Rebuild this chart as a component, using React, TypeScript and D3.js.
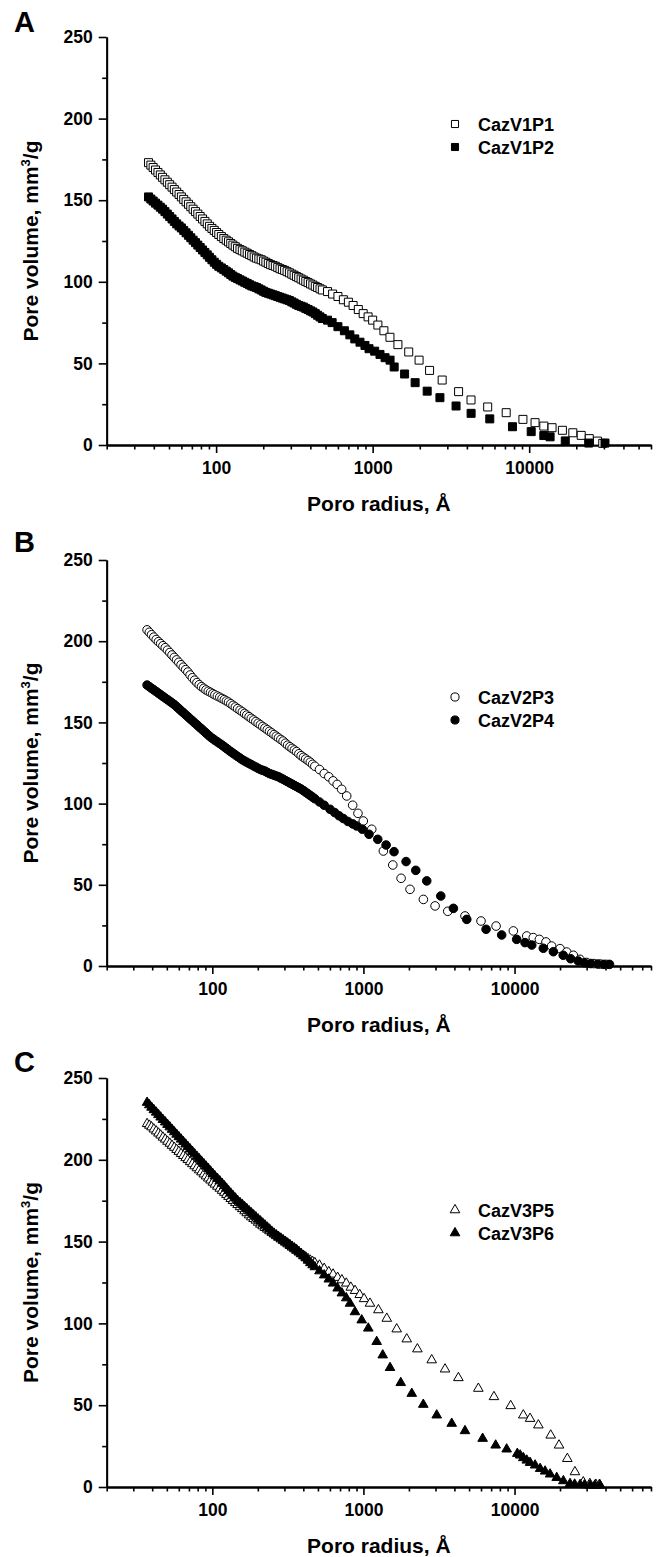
import React, { useEffect, useRef } from "react";
import * as d3 from "d3";

// radius grid (Å) of the dense, small-pore part of every curve
const denseRadius = [37, 38.3, 39.6, 41, 42.5, 44, 45.5, 47.1, 48.8, 50.5, 52.3, 54.1, 56, 58, 60, 62.1, 64.3, 66.6, 68.9, 71.3, 73.8, 76.4, 79.1, 81.9, 84.8, 87.8, 90.8, 94, 97.3, 100.7, 104, 108, 112, 116, 120, 124, 128, 132.5, 137, 142, 147, 152.5, 158, 163.5, 169, 175, 181, 187.5, 194, 201, 208, 215.5, 223, 231, 239, 247.5, 256, 265, 274, 284, 294, 304.5, 315, 326, 337, 349, 361, 374, 387, 401, 415, 430, 445, 461, 477];

// panel A
const v1p1Dense = [173, 171.5, 170, 168.5, 167, 165.5, 164, 162.5, 161, 159.5, 158, 156.5, 155, 153.5, 152, 150.5, 149, 147.5, 146, 144.5, 143, 141.5, 140, 138.5, 137, 135.5, 134, 132.7, 131.5, 130.2, 129, 127.7, 126.5, 125.5, 124.5, 123.5, 122.5, 121.5, 120.5, 119.7, 119, 118.2, 117.5, 116.7, 116, 115.2, 114.5, 114, 113.5, 112.7, 112, 111.2, 110.5, 110, 109.5, 108.7, 108, 107.5, 107, 106.2, 105.5, 104.7, 104, 103.2, 102.5, 101.7, 101, 100.2, 99.5, 98.7, 98, 97.2, 96.5, 95.7, 95];
const v1p1Tail = [[515, 94], [555, 92.5], [600, 91], [650, 89], [700, 87.5], [750, 85.5], [810, 83], [870, 80.5], [935, 78.5], [1000, 76.5], [1080, 73.5], [1180, 70], [1290, 66], [1450, 61.5], [1700, 57], [1980, 52], [2310, 45.7], [2780, 39.8], [3540, 32.7], [4250, 27.6], [5430, 23.3], [7130, 19.8], [9120, 15.7], [10900, 13.7], [12400, 11.6], [14000, 10.6], [16300, 9], [19000, 7.5], [21500, 5.9], [24200, 3.9], [27300, 2.4], [29500, 1]];
const v1p2Dense = [152, 150.7, 149.5, 148.2, 147, 145.7, 144.5, 143, 141.5, 140, 138.5, 137, 135.5, 134.2, 133, 131.5, 130, 128.5, 127, 125.5, 124, 122.5, 121, 119.5, 118, 116.5, 115, 113.5, 112, 110.7, 109.5, 108.5, 107.5, 106.5, 105.5, 104.5, 103.5, 102.7, 102, 101.2, 100.5, 99.7, 99, 98.2, 97.5, 97, 96.5, 95.7, 95, 94.2, 93.5, 93, 92.5, 92, 91.5, 91, 90.5, 90, 89.5, 89, 88.5, 87.7, 87, 86.2, 85.5, 85, 84.5, 83.7, 83, 82.2, 81.5, 80.5, 79.5, 78.5, 77.5];
const v1p2Tail = [[515, 76.5], [551, 75], [600, 72.5], [660, 70], [715, 67.5], [769, 65], [830, 63], [893, 61], [948, 59], [1030, 57.5], [1114, 55.5], [1200, 53.5], [1292, 52], [1372, 47.8], [1600, 43.5], [1868, 38.2], [2230, 33], [2690, 29], [3410, 23.9], [4255, 19.4], [5600, 16], [7820, 11.2], [10300, 8.2], [12400, 5.8], [13600, 5], [17000, 2.5], [24000, 1.2], [30500, 1.2]];

// panel B
const v2p3Dense = [207, 205.5, 204, 202.5, 201, 199.7, 198.5, 197.2, 196, 194.5, 193, 191.5, 190, 188.5, 187, 185.5, 184, 182.5, 181, 179.2, 177.5, 176, 174.5, 173.2, 172, 171, 170, 169.2, 168.5, 167.7, 167, 166.2, 165.5, 164.7, 164, 163.2, 162.5, 161.5, 160.5, 159.5, 158.5, 157.5, 156.5, 155.5, 154.5, 153.5, 152.5, 151.5, 150.5, 149.5, 148.5, 147.5, 146.5, 145.5, 144.5, 143.5, 142.5, 141.5, 140.5, 139.5, 138.5, 137.2, 136, 135, 134, 133, 132, 130.7, 129.5, 128.5, 127.5, 126.5, 125.5, 124.2, 123];
const v2p3Tail = [[512, 121], [550, 118.5], [590, 116.5], [630, 114], [670, 111.8], [718, 108.8], [775, 104.7], [849, 99], [920, 94], [998, 89.3], [1135, 84.2], [1355, 70.8], [1564, 62.2], [1775, 54], [2034, 47.2], [2493, 41], [2980, 37], [3615, 33.7], [4700, 30.8], [6000, 27.7], [7550, 24.6], [9820, 21.6], [12050, 18.5], [13300, 17.5], [14600, 16.4], [16150, 14.8], [17600, 12.3], [20000, 10.7], [22150, 8.6], [24500, 6.6], [27100, 4.1], [30000, 2.2], [33500, 1.5], [37000, 1.2], [40500, 1]];
const v2p4Dense = [173, 172, 171, 170, 169, 168, 167, 166, 165, 164, 163, 162, 161, 159.7, 158.5, 157.2, 156, 154.7, 153.5, 152.2, 151, 149.7, 148.5, 147.2, 146, 144.7, 143.5, 142.2, 141, 140, 139, 138, 137, 136, 135, 134, 133, 132, 131, 130, 129, 128, 127, 126.2, 125.5, 124.7, 124, 123.2, 122.5, 121.7, 121, 120.5, 120, 119.2, 118.5, 118, 117.5, 117, 116.5, 115.7, 115, 114.2, 113.5, 112.7, 112, 111.2, 110.5, 109.7, 109, 108, 107, 106, 105, 104, 103];
const v2p4Tail = [[512, 101], [550, 99], [601, 96.5], [645, 94.5], [690, 92.5], [736, 90.8], [790, 89], [850, 87.5], [902, 86.2], [984, 84.2], [1089, 81.1], [1244, 78], [1413, 74.5], [1594, 70.4], [1915, 64.3], [2220, 58.9], [2624, 52.4], [3250, 43.1], [3940, 35.5], [4830, 28.7], [6480, 22.6], [8220, 19.1], [10330, 16.4], [11730, 14.4], [13000, 12.9], [15500, 10.9], [18070, 8.8], [21000, 6.6], [23500, 4.5], [26400, 3.1], [29000, 2], [32000, 1.5], [35500, 1.2], [39000, 1], [42500, 1]];

// panel C
const v3p5Dense = [222, 221, 220, 218.7, 217.5, 216.2, 215, 213.7, 212.5, 211.2, 210, 208.7, 207.5, 206.2, 205, 203.7, 202.5, 201.2, 200, 198.7, 197.5, 196.2, 195, 193.7, 192.5, 191.2, 190, 188.7, 187.5, 186.2, 185, 183.7, 182.5, 181.2, 180, 178.7, 177.5, 176.2, 175, 173.7, 172.5, 171.2, 170, 168.7, 167.5, 166.2, 165, 164, 163, 161.7, 160.5, 159.5, 158.5, 157.5, 156.5, 155.5, 154.5, 153.5, 152.5, 151.5, 150.5, 149.5, 148.5, 147.5, 146.5, 145.5, 144.5, 143.5, 142.5, 141.5, 140.5, 139.5, 138.5, 137.7, 137];
const v3p5Tail = [[512, 135.5], [550, 133.5], [590, 131.5], [630, 130], [675, 128], [720, 126.5], [770, 124.5], [825, 122], [880, 120], [945, 117.5], [1010, 115], [1105, 112.2], [1256, 108.2], [1427, 103], [1660, 96.5], [1935, 90.4], [2275, 84.3], [2830, 77.6], [3467, 72], [4250, 66.7], [5760, 60.2], [7310, 55.1], [9430, 49.6], [11430, 43.9], [12670, 41.8], [14380, 37.8], [17350, 31.6], [19700, 25.5], [22350, 17.3], [25100, 9.2], [28500, 3], [31500, 2], [34500, 1.5], [36500, 1.5]];
const v3p6Dense = [235, 233.5, 232, 230.5, 229, 227.5, 226, 224.5, 223, 221.5, 220, 218.5, 217, 215.5, 214, 212.5, 211, 209.5, 208, 206.5, 205, 203.5, 202, 200.5, 199, 197.5, 196, 194.5, 193, 191.5, 190, 188.5, 187, 185.5, 184, 182.5, 181, 179.5, 178, 176.5, 175, 173.7, 172.5, 171.2, 170, 168.7, 167.5, 166.2, 165, 163.7, 162.5, 161.2, 160, 158.7, 157.5, 156.2, 155, 154, 153, 152, 151, 150, 149, 148, 147, 146, 145, 143.7, 142.5, 141.2, 140, 138.5, 137, 135.7, 134.5];
const v3p6Tail = [[512, 132], [550, 129.5], [590, 127], [630, 124.5], [675, 121.5], [720, 118.5], [770, 115.5], [815, 112.2], [879, 107], [974, 102], [1077, 97], [1224, 88.8], [1342, 80.6], [1500, 72.9], [1766, 63.7], [2089, 57.1], [2490, 50.4], [3055, 43.9], [3840, 38.8], [4700, 34.3], [6150, 29.6], [7500, 25.5], [8870, 23.1], [10430, 20.4], [10900, 19.4], [11430, 17.8], [12050, 16.3], [12670, 14.9], [13680, 13.3], [14770, 11.2], [15930, 9.6], [17190, 7.8], [19010, 5.7], [21050, 3.7], [23300, 2], [25000, 1.6], [27150, 1.4], [29000, 1.2], [31600, 1], [34000, 1], [36800, 1]];

const xMajorTicks = [100, 1000, 10000];
const yMajorTicks = [0, 50, 100, 150, 200, 250];
const yMinorTicks = [25, 75, 125, 175, 225];

const FONT = "'Liberation Sans', Arial, Helvetica, sans-serif";

function toPoints(dense, tail) {
    const pts = denseRadius.map((r, i) => [r, dense[i]]);
    return pts.concat(tail);
}

const panels = [
    {
        letter: "A", top: 37, bottom: 445, xMax: 60000, letterY: 32, legendY: 124,
        shape: d3.symbolSquare, size: 64, legendSize: 50,
        series: [
            { name: "CazV1P1", open: true, points: toPoints(v1p1Dense, v1p1Tail) },
            { name: "CazV1P2", open: false, points: toPoints(v1p2Dense, v1p2Tail) }
        ]
    },
    {
        letter: "B", top: 560, bottom: 966, xMax: 80000, letterY: 552, legendY: 697,
        shape: d3.symbolCircle, size: 58, legendSize: 52,
        series: [
            { name: "CazV2P3", open: true, points: toPoints(v2p3Dense, v2p3Tail) },
            { name: "CazV2P4", open: false, points: toPoints(v2p4Dense, v2p4Tail) }
        ]
    },
    {
        letter: "C", top: 1078, bottom: 1487, xMax: 80000, letterY: 1072, legendY: 1210,
        shape: d3.symbolTriangle, size: 40, legendSize: 40,
        series: [
            { name: "CazV3P5", open: true, points: toPoints(v3p5Dense, v3p5Tail) },
            { name: "CazV3P6", open: false, points: toPoints(v3p6Dense, v3p6Tail) }
        ]
    }
];

const LEFT = 106.7, RIGHT = 651;

function drawPanel(svg, p) {
    const x = d3.scaleLog().domain([20, p.xMax]).range([LEFT, RIGHT]);
    const y = d3.scaleLinear().domain([0, 250]).range([p.bottom, p.top]);

    const g = svg.append("g");

    // axes
    const xMinor = x.ticks().filter(t => xMajorTicks.indexOf(t) < 0);
    g.append("g")
        .attr("transform", "translate(0," + p.bottom + ")")
        .call(d3.axisBottom(x).tickValues(xMinor).tickFormat(() => "").tickSize(4.5).tickSizeOuter(0));
    g.append("g")
        .attr("transform", "translate(0," + p.bottom + ")")
        .call(d3.axisBottom(x).tickValues(xMajorTicks).tickFormat(d3.format("d")).tickSize(8).tickSizeOuter(0).tickPadding(8.5));
    g.append("g")
        .attr("transform", "translate(" + LEFT + ",0)")
        .call(d3.axisLeft(y).tickValues(yMinorTicks).tickFormat(() => "").tickSize(4.5).tickSizeOuter(0));
    g.append("g")
        .attr("transform", "translate(" + LEFT + ",0)")
        .call(d3.axisLeft(y).tickValues(yMajorTicks).tickSize(8).tickSizeOuter(0).tickPadding(6));

    g.selectAll(".domain").attr("stroke", "#000").attr("stroke-width", 1.8);
    g.selectAll(".tick line").attr("stroke", "#000").attr("stroke-width", 1.6);
    g.selectAll(".tick text")
        .attr("fill", "#000")
        .style("font-family", FONT)
        .style("font-weight", "bold")
        .style("font-size", "17.5px");

    // axis titles
    g.append("text")
        .attr("x", (LEFT + RIGHT) / 2)
        .attr("y", p.bottom + 66)
        .attr("text-anchor", "middle")
        .style("font-family", FONT)
        .style("font-weight", "bold")
        .style("font-size", "21px")
        .text("Poro radius, Å");

    const yt = g.append("text")
        .attr("transform", "translate(38," + (p.top + p.bottom) / 2 + ") rotate(-90)")
        .attr("text-anchor", "middle")
        .style("font-family", FONT)
        .style("font-weight", "bold")
        .style("font-size", "21px");
    yt.append("tspan").text("Pore volume, mm");
    yt.append("tspan").attr("dy", -8).style("font-size", "13px").text("3");
    yt.append("tspan").attr("dy", 8).text("/g");

    // panel letter
    g.append("text")
        .attr("x", 14)
        .attr("y", p.letterY)
        .style("font-family", FONT)
        .style("font-weight", "bold")
        .style("font-size", "29px")
        .text(p.letter);

    // data
    const sym = d3.symbol().type(p.shape).size(p.size);
    p.series.forEach(s => {
        g.append("g")
            .selectAll("path")
            .data(s.points)
            .enter()
            .append("path")
            .attr("d", sym)
            .attr("transform", d => "translate(" + x(d[0]) + "," + y(d[1]) + ")")
            .attr("fill", s.open ? "#fff" : "#000")
            .attr("stroke", "#000")
            .attr("stroke-width", 1);
    });

    // legend
    const legSym = d3.symbol().type(p.shape).size(p.legendSize);
    p.series.forEach((s, i) => {
        const ly = p.legendY + i * 23;
        g.append("path")
            .attr("d", legSym)
            .attr("transform", "translate(455," + ly + ")")
            .attr("fill", s.open ? "#fff" : "#000")
            .attr("stroke", "#000")
            .attr("stroke-width", 1);
        g.append("text")
            .attr("x", 478)
            .attr("y", ly + 6.5)
            .style("font-family", FONT)
            .style("font-weight", "bold")
            .style("font-size", "18px")
            .text(s.name);
    });
}

export default function App() {
    const ref = useRef(null);

    useEffect(() => {
        const svg = d3.select(ref.current);
        svg.selectAll("*").remove();
        panels.forEach(p => drawPanel(svg, p));
    }, []);

    return (
        <svg
            ref={ref}
            width={657}
            height={1557}
            style={{ position: "absolute", left: 0, top: 0, background: "#fff" }}
        />
    );
}
